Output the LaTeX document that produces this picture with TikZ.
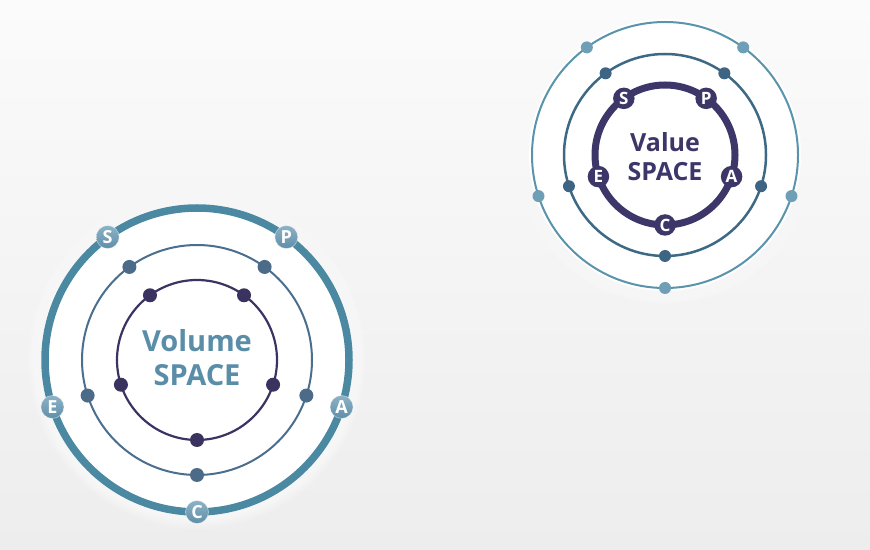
\documentclass[tikz,border=0pt]{standalone}
\usepackage{fontspec}
\setmainfont{Open Sans}
\definecolor{bgTop}{HTML}{FBFBFB}
\definecolor{bgBot}{HTML}{EDEDED}
\definecolor{outerL}{HTML}{4B88A2}
\definecolor{midL}{HTML}{4A6F8E}
\definecolor{innerL}{HTML}{3B3462}
\definecolor{dotMidL}{HTML}{4B6B88}
\definecolor{dotInL}{HTML}{3A335F}
\definecolor{badgeTop}{HTML}{8DB2C6}
\definecolor{badgeBot}{HTML}{5F8FA9}
\definecolor{txtL}{HTML}{5A8DA8}
\definecolor{outerR}{HTML}{5A94AC}
\definecolor{dotOutR}{HTML}{6E9FB6}
\definecolor{midR}{HTML}{3E6985}
\definecolor{dotMidR}{HTML}{3E6483}
\definecolor{innerR}{HTML}{3D3769}
\tikzset{
  badgeL/.style={circle, minimum size=23pt, inner sep=0pt, top color=badgeTop, bottom color=badgeBot, draw=white, draw opacity=0.5, line width=0.6pt, text=white, font=\bfseries\fontsize{18}{18}\selectfont},
  badgeR/.style={circle, minimum size=21.5pt, inner sep=0pt, fill=innerR, text=white, font=\bfseries\fontsize{17}{17}\selectfont},
  dotbig/.style={circle, minimum size=14pt, inner sep=0pt, fill=#1},
  dotsmall/.style={circle, minimum size=12pt, inner sep=0pt, fill=#1},
  title/.style={align=center, font=\bfseries\fontsize{#1}{#1}\selectfont}
}
\begin{document}
\begin{tikzpicture}[x=1pt,y=1pt]
\shade[top color=bgTop, bottom color=bgBot] (0,0) rectangle (870,549);
\useasboundingbox (0,0) rectangle (870,549);
% centres
\coordinate (L) at (197,189);
\coordinate (R) at (665,394);
% glows
\foreach \i in {1,...,10} {
  \fill[white, opacity=0.10] (L) circle ({156+\i*1.3});
  \fill[white, opacity=0.10] (R) circle ({136+\i*1.3});
}
\fill[white] (L) circle (156);
\fill[white] (R) circle (136);
% ---- left diagram ----
\draw[outerL, line width=7.5pt] (L) circle (152);
\draw[midL, line width=2pt] (L) circle (115);
\draw[innerL, line width=2.2pt] (L) circle (80);
\foreach \a/\n in {-90/1,-18/2,54/3,126/4,198/5} {
  \node[dotbig=dotMidL] (lm\n) at ([shift={(\a:115)}]L) {};
  \node[dotbig=dotInL] (li\n) at ([shift={(\a:80)}]L) {};
}
\node[badgeL] (lC) at ([shift={(-90:152)}]L) {C};
\node[badgeL] (lA) at ([shift={(-18:152)}]L) {A};
\node[badgeL] (lP) at ([shift={(54:152)}]L) {P};
\node[badgeL] (lS) at ([shift={(126:152)}]L) {S};
\node[badgeL] (lE) at ([shift={(198:152)}]L) {E};
\node[title=29, text=txtL] (lt) at ([yshift=2]L) {Volume\\[5pt]SPACE};
% ---- right diagram ----
\draw[outerR, line width=2pt] (R) circle (133);
\draw[midR, line width=2.5pt] (R) circle (101);
\draw[innerR, line width=7pt] (R) circle (70);
\foreach \a/\n in {-90/1,-18/2,54/3,126/4,198/5} {
  \node[dotsmall=dotOutR] (ro\n) at ([shift={(\a:133)}]R) {};
  \node[dotsmall=dotMidR] (rm\n) at ([shift={(\a:101)}]R) {};
}
\node[badgeR] (rC) at ([shift={(-90:70)}]R) {C};
\node[badgeR] (rA) at ([shift={(-18:70)}]R) {A};
\node[badgeR] (rP) at ([shift={(54:70)}]R) {P};
\node[badgeR] (rS) at ([shift={(126:70)}]R) {S};
\node[badgeR] (rE) at ([shift={(198:70)}]R) {E};
\node[title=25, text=innerR] (rt) at ([yshift=-2]R) {Value\\[4pt]SPACE};
\end{tikzpicture}
\end{document}
